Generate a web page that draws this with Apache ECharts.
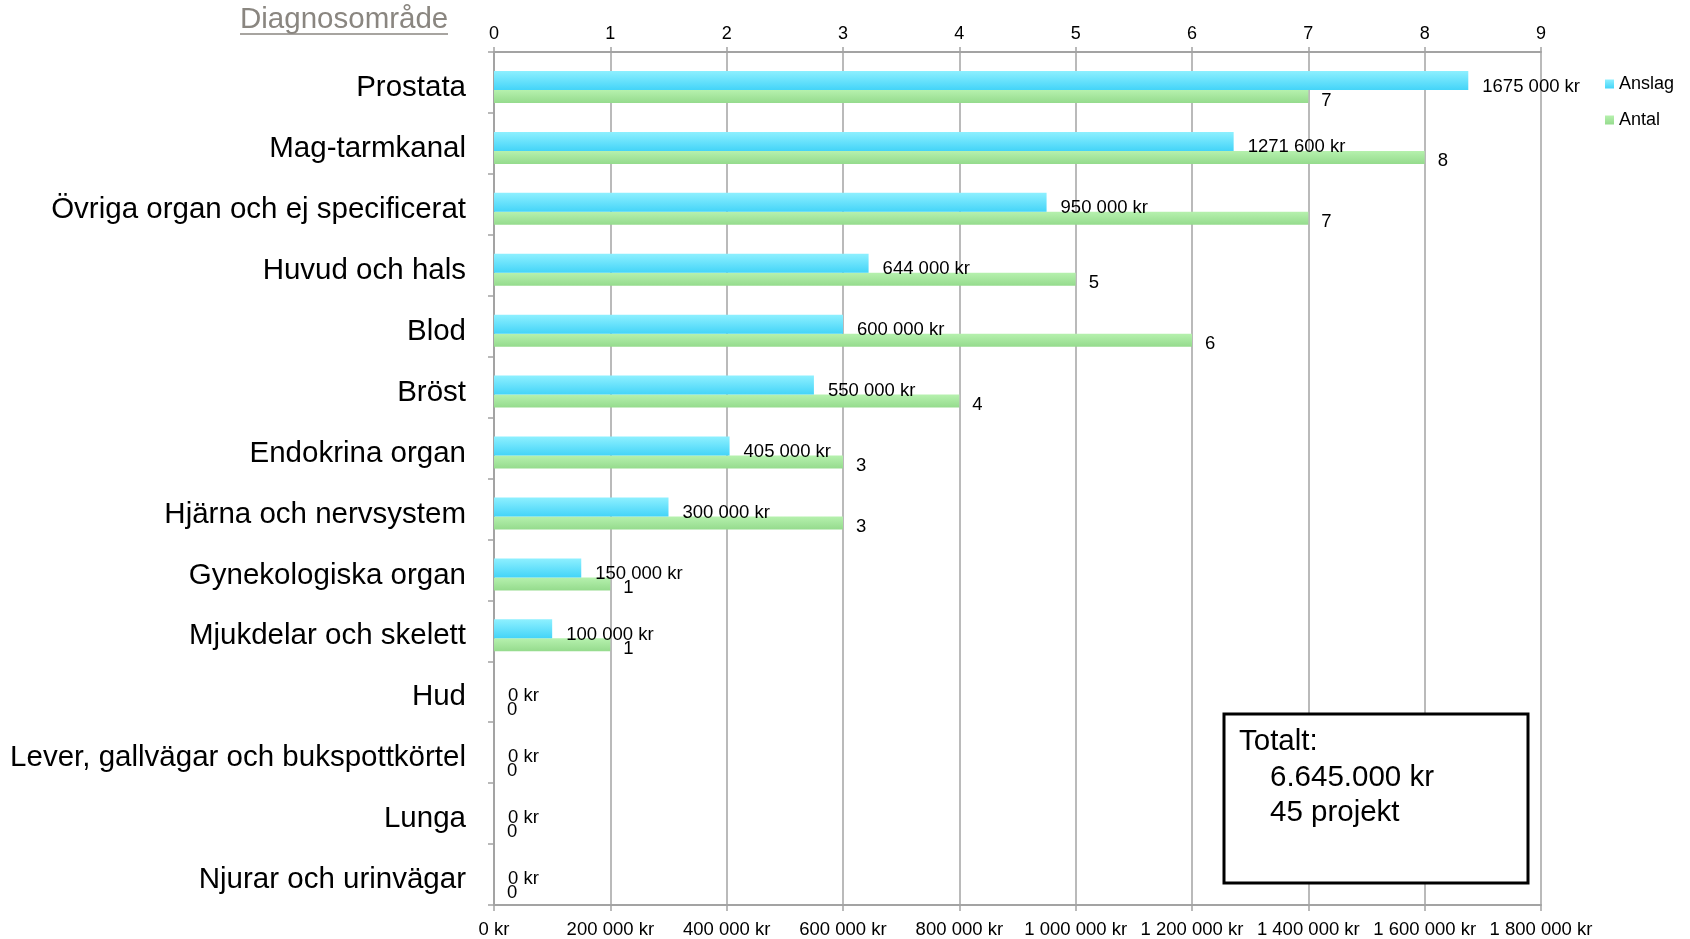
<!DOCTYPE html>
<html>
<head>
<meta charset="utf-8">
<script src="https://cdn.jsdelivr.net/npm/echarts@6/dist/echarts.min.js"></script>
<style>
html,body{margin:0;padding:0;background:#fff;}
#chart{width:1690px;height:939px;}
</style>
</head>
<body>
<div id="chart"></div>
<script>
const categories = ['Prostata','Mag-tarmkanal','Övriga organ och ej specificerat','Huvud och hals','Blod','Bröst','Endokrina organ','Hjärna och nervsystem','Gynekologiska organ','Mjukdelar och skelett','Hud','Lever, gallvägar och bukspottkörtel','Lunga','Njurar och urinvägar'];
const anslag = [1675000,1271600,950000,644000,600000,550000,405000,300000,150000,100000,0,0,0,0];
const antal = [7,8,7,5,6,4,3,3,1,1,0,0,0,0];
const seriesNames = ['Anslag','Antal'];
const axisTitle = 'Diagnosområde';
const totalLines = ['Totalt:','6.645.000 kr','45 projekt'];

const FONT = '"Liberation Sans", Arial, Helvetica, sans-serif';
const GRID_GRAY = '#a3a3a3';

function groupKr(v){ return String(v).replace(/\B(?=(\d{3})+(?!\d))/g,' ') + ' kr'; }
function labelKr(v){
  if (v >= 1000) return Math.floor(v/1000) + ' ' + String(v % 1000).padStart(3,'0') + ' kr';
  return v + ' kr';
}

const chart = echarts.init(document.getElementById('chart'));
chart.setOption({
  animation:false,
  backgroundColor:'#fff',
  textStyle:{fontFamily:FONT},
  grid:{left:494, right:149, top:52, bottom:32, containLabel:false},
  legend:{
    orient:'vertical', left:1600, top:70, itemWidth:9, itemHeight:9, itemGap:18,
    icon:'rect',
    textStyle:{fontSize:18, color:'#000', fontFamily:FONT},
    data:seriesNames
  },
  xAxis:[
    {
      type:'value', position:'bottom', min:0, max:1800000, interval:200000,
      axisLine:{show:true, lineStyle:{color:GRID_GRAY, width:2}},
      axisTick:{show:true, length:6, lineStyle:{color:GRID_GRAY, width:1.5}},
      axisLabel:{fontSize:18.5, color:'#000', margin:15, formatter:groupKr, fontFamily:FONT},
      splitLine:{show:true, lineStyle:{color:GRID_GRAY, width:1.5}}
    },
    {
      type:'value', position:'top', min:0, max:9, interval:1,
      axisLine:{show:true, lineStyle:{color:GRID_GRAY, width:2}},
      axisTick:{show:true, length:5, lineStyle:{color:GRID_GRAY, width:1.5}},
      axisLabel:{fontSize:18, color:'#000', margin:9, fontFamily:FONT},
      splitLine:{show:false}
    }
  ],
  yAxis:{
    type:'category', data:categories, inverse:true,
    axisLine:{show:true, lineStyle:{color:GRID_GRAY, width:2}},
    axisTick:{show:true, length:6, lineStyle:{color:GRID_GRAY, width:1.5}},
    axisLabel:{
      color:'#000', margin:28, fontFamily:FONT,
      formatter:'{c|{value}}',
      rich:{c:{fontSize:29.5, color:'#000', fontFamily:FONT, padding:[11,0,0,0]}}
    },
    splitLine:{show:false}
  },
  series:[
    {
      name:'spacer', type:'bar', xAxisIndex:0, data:[], barWidth:9, barGap:'0%', silent:true
    },
    {
      name:seriesNames[0], type:'bar', xAxisIndex:0, data:anslag,
      barWidth:19, barGap:'0%', z:3,
      itemStyle:{color:new echarts.graphic.LinearGradient(0,0,0,1,[{offset:0,color:'#8ef0ff'},{offset:1,color:'#44d4f8'}])},
      label:{show:true, position:'right', distance:14, offset:[0,6], formatter:p=>labelKr(p.value), fontSize:18.5, color:'#000', fontFamily:FONT}
    },
    {
      name:seriesNames[1], type:'bar', xAxisIndex:1, data:antal,
      barWidth:13, barGap:'0%', z:2,
      itemStyle:{color:new echarts.graphic.LinearGradient(0,0,0,1,[{offset:0,color:'#b6f1ae'},{offset:1,color:'#95db8d'}])},
      label:{show:true, position:'right', distance:13, offset:[0,4], fontSize:18.5, color:'#000', fontFamily:FONT}
    }
  ],
  graphic:[
    {type:'text', left:240, top:5, style:{text:axisTitle, font:'29.5px ' + FONT, fill:'#8a8680'}},
    {type:'line', shape:{x1:240, y1:34, x2:448, y2:34}, style:{stroke:'#8a8680', lineWidth:1.5}},
    {type:'rect', shape:{x:1224, y:714, width:304, height:169}, style:{fill:'#fff', stroke:'#000', lineWidth:3}, z:10},
    {type:'text', left:1239, top:727, style:{text:totalLines[0], font:'29.5px ' + FONT, fill:'#000'}, z:11},
    {type:'text', left:1270, top:763, style:{text:totalLines[1], font:'29.5px ' + FONT, fill:'#000'}, z:11},
    {type:'text', left:1270, top:798, style:{text:totalLines[2], font:'29.5px ' + FONT, fill:'#000'}, z:11}
  ]
});
</script>
</body>
</html>
